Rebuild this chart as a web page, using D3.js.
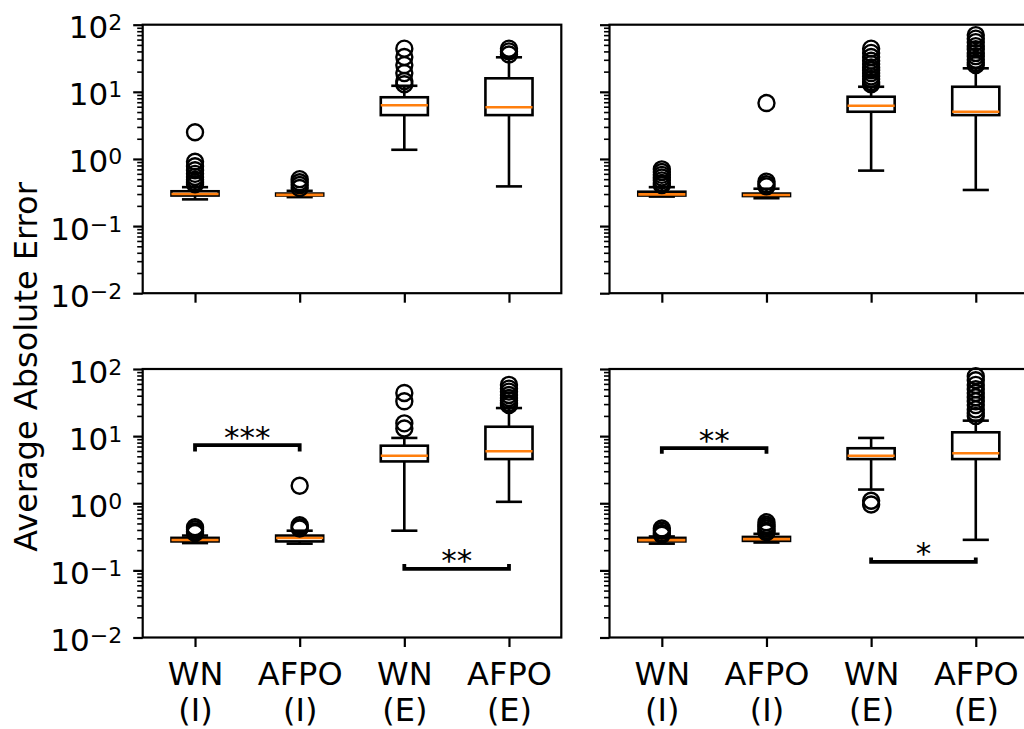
<!DOCTYPE html>
<html>
<head>
<meta charset="utf-8">
<script src="https://cdn.jsdelivr.net/npm/d3@7"></script>
<style>
  html, body { margin: 0; padding: 0; background: #fff; }
  svg { display: block; font-family: "DejaVu Sans", sans-serif; }
</style>
</head>
<body>
<svg id="chart" width="1024" height="729"></svg>
<script>
// Groups along the x axis, two-line tick labels
const categories = ["WN (I)", "AFPO (I)", "WN (E)", "AFPO (E)"];
const tickLine1 = ["WN", "AFPO", "WN", "AFPO"];
const tickLine2 = ["(I)", "(I)", "(E)", "(E)"];

// Decade ticks on the log axis
const decades = [0.01, 0.1, 1, 10, 100];
const decadeExp = ["\u22122", "\u22121", "0", "1", "2"];

// Box statistics per group: whisker low, Q1, median, Q3, whisker high, fliers
const statsTopLeft = [
  { lo: 0.25,  q1: 0.285, med: 0.30,  q3: 0.33,  hi: 0.38, out: [2.5, 0.91, 0.78, 0.68, 0.6, 0.54, 0.49, 0.45, 0.42] },
  { lo: 0.27,  q1: 0.285, med: 0.292, q3: 0.305, hi: 0.335, out: [0.5, 0.45, 0.41, 0.37] },
  { lo: 1.37,  q1: 4.5,   med: 6.3,   q3: 8.3,   hi: 12.3, out: [44, 33, 25, 19, 14.5, 13] },
  { lo: 0.39,  q1: 4.5,   med: 5.9,   q3: 15.9,  hi: 32.7, out: [44, 40, 36] }
];
const statsTopRight = [
  { lo: 0.275, q1: 0.285, med: 0.297, q3: 0.325, hi: 0.38, out: [0.7, 0.64, 0.58, 0.53, 0.48, 0.44, 0.41] },
  { lo: 0.26,  q1: 0.28,  med: 0.29,  q3: 0.305, hi: 0.36, out: [6.8, 0.46, 0.42, 0.39] },
  { lo: 0.67,  q1: 5.05,  med: 6.2,   q3: 8.45,  hi: 11.9, out: [44, 38, 33, 29, 26, 23, 21, 19, 17, 15.5, 14, 13] },
  { lo: 0.345, q1: 4.5,   med: 5.05,  q3: 11.9,  hi: 22.4, out: [70, 62, 55, 48, 43, 38, 34, 30, 27, 25] }
];
const statsBottomLeft = [
  { lo: 0.255, q1: 0.27,  med: 0.283, q3: 0.305, hi: 0.33, out: [0.44, 0.41, 0.38, 0.36] },
  { lo: 0.25,  q1: 0.27,  med: 0.303, q3: 0.33,  hi: 0.39, out: [1.82, 0.47, 0.44, 0.42] },
  { lo: 0.39,  q1: 4.2,   med: 5.1,   q3: 7.2,   hi: 9.4,  out: [44, 33, 15.5, 13] },
  { lo: 1.05,  q1: 4.55,  med: 5.95,  q3: 13.8,  hi: 26.2, out: [58, 51, 46, 41, 37, 34, 31, 29] }
];
const statsBottomRight = [
  { lo: 0.25,  q1: 0.27,  med: 0.282, q3: 0.305, hi: 0.32, out: [0.42, 0.39, 0.36, 0.34] },
  { lo: 0.26,  q1: 0.275, med: 0.292, q3: 0.315, hi: 0.35, out: [0.52, 0.48, 0.45, 0.42, 0.39, 0.37] },
  { lo: 1.6,   q1: 4.55,  med: 5.1,   q3: 6.6,   hi: 9.4,  out: [1.09, 0.96] },
  { lo: 0.285, q1: 4.55,  med: 5.55,  q3: 11.4,  hi: 17,   out: [78, 68, 58, 50, 44, 38, 33, 29, 25, 22, 20] }
];

// Significance brackets: groups joined, bar level, end-tip level, label
const bracketsBottomLeft = [
  { a: 0, b: 1, level: 7.36, tip: 6.3,   label: "***" },
  { a: 2, b: 3, level: 0.105, tip: 0.117, label: "**" }
];
const bracketsBottomRight = [
  { a: 0, b: 1, level: 6.64, tip: 5.85,  label: "**" },
  { a: 2, b: 3, level: 0.134, tip: 0.146, label: "*" }
];

const PW = 418.6, PH = 268.5;
const panels = [
  { left: 142.7, top: 24.7, stats: statsTopLeft,     brackets: [], yLabels: true,  xLabels: false },
  { left: 609.5, top: 24.7, stats: statsTopRight,    brackets: [], yLabels: false, xLabels: false },
  { left: 142.7, top: 369,  stats: statsBottomLeft,  brackets: bracketsBottomLeft,  yLabels: true,  xLabels: true },
  { left: 609.5, top: 369,  stats: statsBottomRight, brackets: bracketsBottomRight, yLabels: false, xLabels: true }
];

const minorTicks = [];
for (let e = -2; e < 2; e++) for (let m = 2; m <= 9; m++) minorTicks.push(m * Math.pow(10, e));

const svg = d3.select("#chart");
const ORANGE = "#ff7f0e";
const LW = 2.6;

panels.forEach(p => {
  const g = svg.append("g").attr("transform", `translate(${p.left},${p.top})`);
  const x = d3.scaleLinear().domain([0.5, 4.5]).range([0, PW]);
  const y = d3.scaleLog().domain([0.01, 100]).range([PH, 0]);

  // minor y ticks
  const yMinor = g.append("g").call(d3.axisLeft(y).tickValues(minorTicks).tickSize(5.5).tickFormat(""));
  yMinor.select(".domain").remove();
  yMinor.selectAll("line").attr("stroke", "#000").attr("stroke-width", 1.6);

  // major y ticks
  const yMajor = g.append("g").call(d3.axisLeft(y).tickValues(decades).tickSize(9.5).tickFormat(""));
  yMajor.select(".domain").remove();
  yMajor.selectAll("line").attr("stroke", "#000").attr("stroke-width", 2.2);
  if (p.yLabels) {
    yMajor.selectAll(".tick text").each(function (d, i) {
      const t = d3.select(this)
        .attr("x", -20.5).attr("dy", null).attr("y", 13)
        .attr("text-anchor", "end").attr("fill", "#000")
        .style("font-size", "31px").style("font-family", "DejaVu Sans");
      t.text(null);
      t.append("tspan").text("10");
      t.append("tspan").attr("dy", -8).style("font-size", "22px").text(decadeExp[decades.indexOf(d)]);
    });
  }

  // x ticks
  const xAx = g.append("g").attr("transform", `translate(0,${PH})`)
    .call(d3.axisBottom(x).tickValues([1, 2, 3, 4]).tickSize(9.5).tickFormat(""));
  xAx.select(".domain").remove();
  xAx.selectAll("line").attr("stroke", "#000").attr("stroke-width", 2.2);
  if (p.xLabels) {
    xAx.selectAll(".tick text").each(function (d) {
      const t = d3.select(this).attr("y", null).attr("dy", null)
        .attr("text-anchor", "middle").attr("fill", "#000")
        .style("font-size", "32px").style("font-family", "DejaVu Sans");
      t.text(null);
      t.append("tspan").attr("x", 0).attr("y", 47.7).text(tickLine1[d - 1]);
      t.append("tspan").attr("x", 0).attr("y", 83).text(tickLine2[d - 1]);
    });
  }

  // boxes
  const boxG = g.selectAll(".box").data(p.stats).enter().append("g").attr("class", "box");
  boxG.each(function (d, i) {
    const sel = d3.select(this);
    const pos = i + 1;
    const cx = x(pos);
    const half = x(pos + 0.225) - cx;
    const capHalf = x(pos + 0.1125) - cx;
    // whiskers
    sel.append("line").attr("x1", cx).attr("x2", cx).attr("y1", y(d.q1)).attr("y2", y(d.lo))
      .attr("stroke", "#000").attr("stroke-width", LW);
    sel.append("line").attr("x1", cx).attr("x2", cx).attr("y1", y(d.q3)).attr("y2", y(d.hi))
      .attr("stroke", "#000").attr("stroke-width", LW);
    // caps
    [d.lo, d.hi].forEach(v => {
      sel.append("line").attr("x1", cx - capHalf).attr("x2", cx + capHalf).attr("y1", y(v)).attr("y2", y(v))
        .attr("stroke", "#000").attr("stroke-width", LW).attr("stroke-linecap", "square");
    });
    // box
    sel.append("rect").attr("x", cx - half).attr("y", y(d.q3))
      .attr("width", 2 * half).attr("height", y(d.q1) - y(d.q3))
      .attr("fill", "none").attr("stroke", "#000").attr("stroke-width", LW);
    // median
    sel.append("line").attr("x1", cx - half).attr("x2", cx + half).attr("y1", y(d.med)).attr("y2", y(d.med))
      .attr("stroke", ORANGE).attr("stroke-width", LW);
    // fliers
    sel.selectAll("circle").data(d.out).enter().append("circle")
      .attr("cx", cx).attr("cy", v => y(v)).attr("r", 8)
      .attr("fill", "none").attr("stroke", "#000").attr("stroke-width", 2.4);
  });

  // significance brackets
  p.brackets.forEach(b => {
    const xa = x(b.a + 1), xb = x(b.b + 1);
    const yl = y(b.level), yt = y(b.tip);
    g.append("path")
      .attr("d", `M${xa},${yt}L${xa},${yl}L${xb},${yl}L${xb},${yt}`)
      .attr("fill", "none").attr("stroke", "#000").attr("stroke-width", 3.8)
      .attr("stroke-linecap", "square").attr("stroke-linejoin", "miter");
    g.append("text").attr("x", (xa + xb) / 2).attr("y", yl + 2.5)
      .attr("text-anchor", "middle").style("font-size", "31px").attr("fill", "#000")
      .text(b.label);
  });

  // frame
  g.append("rect").attr("x", 0).attr("y", 0).attr("width", PW).attr("height", PH)
    .attr("fill", "none").attr("stroke", "#000").attr("stroke-width", 2.2);
});

// shared y-axis title
svg.append("text")
  .attr("transform", "translate(37,367) rotate(-90)")
  .attr("text-anchor", "middle").style("font-size", "32px").attr("fill", "#000")
  .text("Average Absolute Error");
</script>
</body>
</html>
